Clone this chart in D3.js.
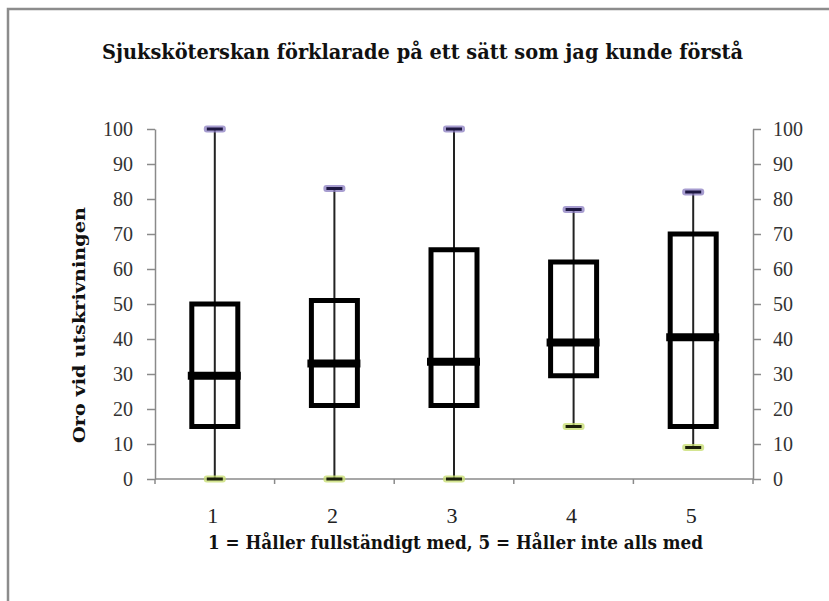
<!DOCTYPE html>
<html>
<head>
<meta charset="utf-8">
<script src="https://cdn.jsdelivr.net/npm/d3@7"></script>
<style>
  body { margin: 0; background: #fff; }
</style>
</head>
<body>
<div id="chart-container"></div>
<script>
const categories = ['1', '2', '3', '4', '5']
const minVals = [0, 0, 0, 15, 9]
const q1Vals = [15, 21, 21, 29.5, 15]
const medianVals = [29.5, 33, 33.5, 39, 40.5]
const q3Vals = [50, 51, 65.5, 62, 70]
const maxVals = [100, 83, 100, 77, 82]
const yTicks = [0, 10, 20, 30, 40, 50, 60, 70, 80, 90, 100]

const title = 'Sjuksköterskan förklarade på ett sätt som jag kunde förstå'
const xTitle = '1 = Håller fullständigt med, 5 = Håller inte alls med'
const yTitle = 'Oro vid utskrivningen'

const width = 829
const height = 601
const plotLeft = 155, plotRight = 753, plotTop = 129, plotBottom = 479

const data = categories.map((c, i) => ({
  cat: c, min: minVals[i], q1: q1Vals[i], med: medianVals[i], q3: q3Vals[i], max: maxVals[i]
}))

const svg = d3.select('#chart-container')
  .append('svg')
  .attr('width', width)
  .attr('height', height)

// outer frame (goes past the window edges)
svg.append('rect')
  .attr('x', 8).attr('y', 9)
  .attr('width', 900).attr('height', 700)
  .attr('fill', 'none')
  .attr('stroke', '#8c8c8c')
  .attr('stroke-width', 2.5)

const xScale = d3.scaleBand()
  .domain(categories)
  .range([plotLeft, plotRight])

const yScale = d3.scaleLinear()
  .domain([0, 100])
  .range([plotBottom, plotTop])

const serif = '"Liberation Serif", "DejaVu Serif", serif'
const boldSerif = '"DejaVu Serif", "Liberation Serif", serif'

// y axes
svg.append('g')
  .attr('transform', `translate(${plotLeft},0)`)
  .call(d3.axisLeft(yScale).tickValues(yTicks).tickSize(8).tickPadding(14).tickSizeOuter(0))
svg.append('g')
  .attr('transform', `translate(${plotRight},0)`)
  .call(d3.axisRight(yScale).tickValues(yTicks).tickSize(8).tickPadding(12).tickSizeOuter(0))

// x axis, ticks sit on band edges
const xAxis = svg.append('g')
  .attr('transform', `translate(0,${plotBottom})`)
xAxis.append('line')
  .attr('x1', plotLeft).attr('x2', plotRight)
  .attr('y1', 0).attr('y2', 0)
xAxis.selectAll('.edge')
  .data(categories.map(c => xScale(c)).concat([plotRight]))
  .enter()
  .append('line')
  .attr('class', 'edge')
  .attr('x1', d => d).attr('x2', d => d)
  .attr('y1', 0).attr('y2', 5)
xAxis.selectAll('.cat')
  .data(categories)
  .enter()
  .append('text')
  .attr('class', 'cat')
  .attr('x', d => xScale(d) + xScale.bandwidth() / 2 - 2)
  .attr('y', 44)
  .attr('text-anchor', 'middle')
  .style('font-family', serif)
  .style('font-size', '22px')
  .attr('fill', '#222')
  .text(d => d)

svg.selectAll('.domain, .tick line, g line')
  .attr('stroke', '#8a8a8a')
  .attr('stroke-width', 1.5)
svg.selectAll('.tick text')
  .style('font-family', serif)
  .style('font-size', '20px')
  .attr('fill', '#333')

const cx = d => xScale(d.cat) + xScale.bandwidth() / 2

// whiskers
svg.selectAll('.whisker')
  .data(data)
  .enter()
  .append('line')
  .attr('x1', cx).attr('x2', cx)
  .attr('y1', d => yScale(d.min)).attr('y2', d => yScale(d.max))
  .attr('stroke', '#222')
  .attr('stroke-width', 2)

// boxes
svg.selectAll('.box')
  .data(data)
  .enter()
  .append('rect')
  .attr('x', d => cx(d) - 23)
  .attr('width', 46)
  .attr('y', d => yScale(d.q3))
  .attr('height', d => yScale(d.q1) - yScale(d.q3))
  .attr('fill', 'none')
  .attr('stroke', '#000')
  .attr('stroke-width', 5)

// medians
svg.selectAll('.median')
  .data(data)
  .enter()
  .append('line')
  .attr('x1', d => cx(d) - 27).attr('x2', d => cx(d) + 26)
  .attr('y1', d => yScale(d.med)).attr('y2', d => yScale(d.med))
  .attr('stroke', '#000')
  .attr('stroke-width', 8)

// caps: coloured glow with dark dash
function caps (key, glow, dark) {
  svg.selectAll('.glow-' + key)
    .data(data)
    .enter()
    .append('rect')
    .attr('x', d => cx(d) - 11)
    .attr('y', d => yScale(d[key]) - 3.5)
    .attr('width', 22).attr('height', 7)
    .attr('rx', 3)
    .attr('fill', glow)
    .attr('opacity', 0.75)
  svg.selectAll('.cap-' + key)
    .data(data)
    .enter()
    .append('line')
    .attr('x1', d => cx(d) - 8).attr('x2', d => cx(d) + 8)
    .attr('y1', d => yScale(d[key])).attr('y2', d => yScale(d[key]))
    .attr('stroke', dark)
    .attr('stroke-width', 3)
}
caps('max', '#8a7cc0', '#1c1640')
caps('min', '#c5dc6c', '#1a1d0a')

// titles
svg.append('text')
  .attr('x', 102).attr('y', 59)
  .attr('textLength', 641)
  .attr('lengthAdjust', 'spacingAndGlyphs')
  .style('font-family', boldSerif)
  .style('font-weight', 'bold')
  .style('font-size', '21px')
  .attr('fill', '#111')
  .text(title)

svg.append('text')
  .attr('x', 208).attr('y', 549)
  .attr('textLength', 495)
  .attr('lengthAdjust', 'spacingAndGlyphs')
  .style('font-family', boldSerif)
  .style('font-weight', 'bold')
  .style('font-size', '18.5px')
  .attr('fill', '#111')
  .text(xTitle)

svg.append('text')
  .attr('transform', 'translate(85,325) rotate(-90)')
  .attr('text-anchor', 'middle')
  .attr('textLength', 236)
  .attr('lengthAdjust', 'spacingAndGlyphs')
  .style('font-family', boldSerif)
  .style('font-weight', 'bold')
  .style('font-size', '17px')
  .attr('fill', '#111')
  .text(yTitle)
</script>
</body>
</html>
